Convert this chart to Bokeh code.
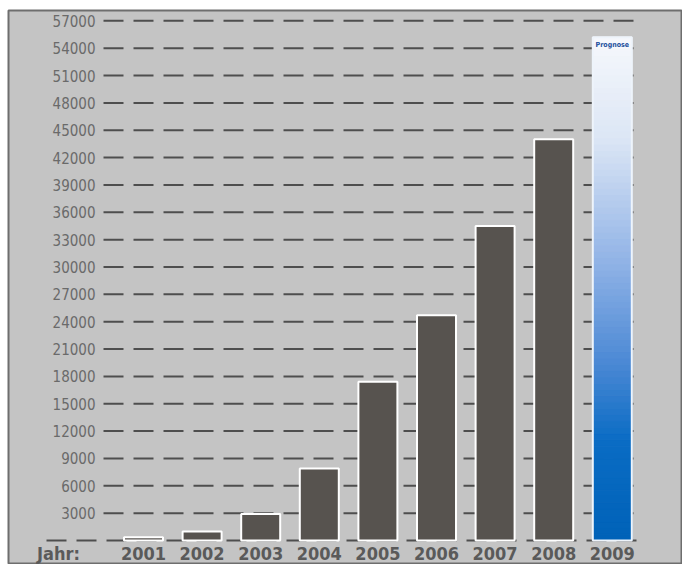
import numpy as np
from bokeh.plotting import figure
from bokeh.models import ColumnDataSource, Range1d
from bokeh.core.properties import value
from bokeh.embed import file_html
from bokeh.resources import INLINE

# ---- data ----
years = [2001, 2002, 2003, 2004, 2005, 2006, 2007, 2008]
counts = [350, 1000, 2900, 7900, 17400, 24700, 34500, 44000]
forecast_year = 2009
forecast_value = 55200
forecast_label = "Prognose"
y_ticks = list(range(3000, 57001, 3000))
y_tick_labels = [str(t) for t in y_ticks]
year_labels = [str(y) for y in years + [forecast_year]]
axis_title = "Jahr:"

FONT = value("DejaVu Sans Condensed")

# ---- layout helpers (pixel -> data) ----
X0_PX, STEP_PX = 143.0, 58.6        # centre of first bar, bar spacing
Y0_PX, PX_PER_3000 = 540.0, 27.35   # baseline pixel, pixels per 3000

def px2x(p):
    return years[0] + (p - X0_PX) / STEP_PX

def py2y(p):
    return (Y0_PX - p) / PX_PER_3000 * 3000.0

W, H = 682, 564
LEFT, TOP = 8, 10

p = figure(width=W, height=H, output_backend="svg", toolbar_location=None,
           x_range=Range1d(px2x(LEFT), px2x(W)),
           y_range=Range1d(py2y(H), py2y(TOP)),
           min_border_left=LEFT, min_border_top=TOP,
           min_border_right=0, min_border_bottom=0)
p.axis.visible = False
p.grid.visible = False
p.background_fill_color = "#c4c4c4"
p.border_fill_color = "white"
p.outline_line_color = "#6e6e6e"
p.outline_line_width = 2

# dashed grid lines at tick values
grid_src = ColumnDataSource(dict(
    x0=[px2x(103)] * len(y_ticks), x1=[px2x(640)] * len(y_ticks),
    y=y_ticks,
))
p.segment(x0="x0", x1="x1", y0="y", y1="y", source=grid_src,
          line_color="#4e4e4e", line_width=2, line_dash="20 10")
# baseline
p.segment(x0=[px2x(46)], x1=[px2x(640)], y0=[0], y1=[0],
          line_color="#4e4e4e", line_width=2, line_dash="20 10")

BAR_W = 39 / STEP_PX

# bars
bar_src = ColumnDataSource(dict(x=years, top=counts))
p.vbar(x="x", top="top", bottom=0, width=BAR_W, source=bar_src,
       fill_color="#57534f", line_color="white", line_width=2)

# forecast bar with vertical gradient
stops_f = [0.0, 0.2, 0.35, 0.55, 0.8, 1.0]
stops_c = [(0, 98, 184), (10, 108, 196), (74, 136, 212), (143, 178, 230),
           (220, 230, 245), (246, 248, 252)]
n = 80
fr = np.linspace(0, 1, n + 1)
cols = []
for i in range(n):
    f = (fr[i] + fr[i + 1]) / 2
    rgb = [int(round(np.interp(f, stops_f, [c[k] for c in stops_c]))) for k in range(3)]
    cols.append("#%02x%02x%02x" % tuple(rgb))
grad_src = ColumnDataSource(dict(
    x=[forecast_year] * n,
    bottom=list(fr[:-1] * forecast_value),
    top=list(fr[1:] * forecast_value),
    c=cols,
))
p.vbar(x="x", bottom="bottom", top="top", width=BAR_W, source=grad_src,
       fill_color="c", line_color="c", line_width=1)
p.vbar(x=[forecast_year], top=[forecast_value], bottom=0, width=BAR_W,
       fill_color=None, line_color="#eef4fb", line_width=2)

p.text(x=[forecast_year], y=[forecast_value - 900], text=[forecast_label],
       text_font=FONT, text_font_style="bold",
       text_font_size="7px", text_color="#1c4f9c",
       text_align="center", text_baseline="middle")

# y tick labels
p.text(x=[px2x(95)] * len(y_ticks), y=y_ticks, text=y_tick_labels,
       text_font=FONT, text_font_size="15px",
       text_color="#6a6a6a", text_align="right", text_baseline="middle")

# year labels
yl = py2y(553)
p.text(x=years + [forecast_year], y=[yl] * len(year_labels), text=year_labels,
       text_font=FONT, text_font_style="bold",
       text_font_size="18px", text_color="#5a5a5a",
       text_align="center", text_baseline="middle")
p.text(x=[px2x(58)], y=[yl], text=[axis_title],
       text_font=FONT, text_font_style="bold",
       text_font_size="18px", text_color="#5a5a5a",
       text_align="center", text_baseline="middle")

open("out.html", "w").write(file_html(p, INLINE))
